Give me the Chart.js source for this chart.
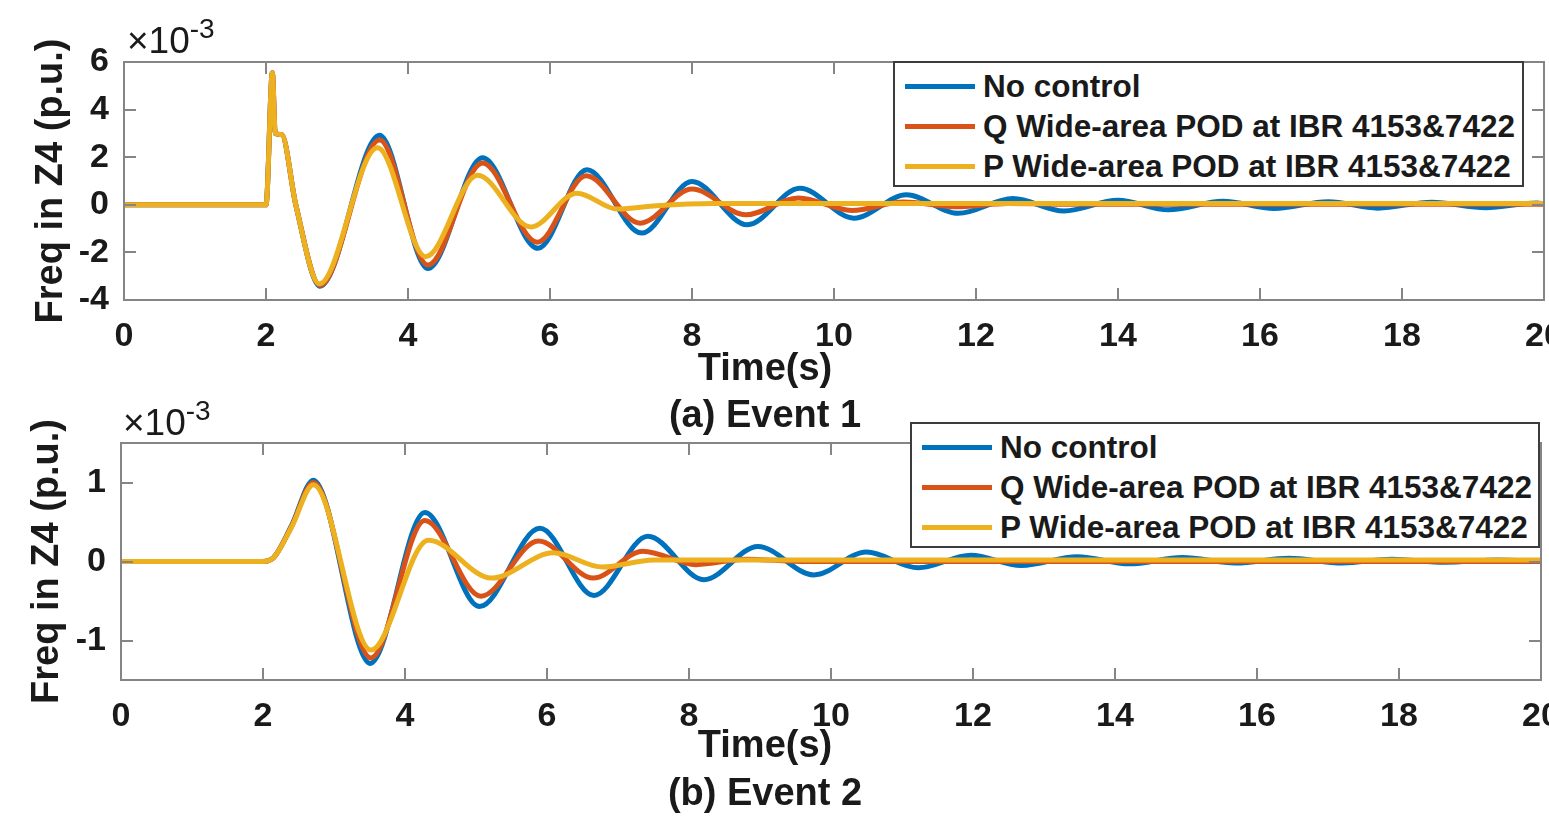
<!DOCTYPE html>
<html>
<head>
<meta charset="utf-8">
<title>Freq in Z4</title>
<script src="https://cdn.jsdelivr.net/npm/chart.js@4.4.1/dist/chart.umd.min.js"></script>
<style>
  html, body { margin: 0; padding: 0; background: #fff; overflow: hidden; }
  body { width: 1549px; height: 818px; position: relative; font-family: 'Liberation Sans', Arial, sans-serif; color: #1a1a1a; }
  .plot { position: absolute; left: 0; width: 1549px; }
  .plot canvas { display: block; }
  .exp { position: absolute; font-size: 37px; line-height: 37px; font-weight: normal; white-space: nowrap; }
  .exp sup { font-size: 28px; vertical-align: 15px; line-height: 0; }
  .caption { position: absolute; width: 400px; text-align: center; font-size: 38px; font-weight: bold; line-height: 40px; z-index: 4; }
  .legend { position: absolute; box-sizing: border-box; background: #fff; border: 2px solid #3c3c3c; padding: 3px 0 0 10px; z-index: 5; }
  .legend .row { height: 40px; line-height: 40px; font-size: 31.5px; font-weight: bold; white-space: nowrap; display: flex; align-items: center; }
  .legend .swatch { display: inline-block; width: 70px; height: 5px; margin-right: 8px; }
</style>
</head>
<body>
<div class="plot" style="top:0;height:440px"><canvas id="event1" width="1549" height="440"></canvas></div>
<div class="plot" style="top:400px;height:418px"><canvas id="event2" width="1549" height="418"></canvas></div>
<div class="exp" style="left:127px;top:22px">&times;10<sup>-3</sup></div>
<div class="exp" style="left:123px;top:404px">&times;10<sup>-3</sup></div>
<div class="legend" id="legend1" style="left:893px;top:61px;width:631px;height:126px"></div>
<div class="legend" id="legend2" style="left:910px;top:422px;width:630px;height:126px"></div>
<div class="caption" style="left:565px;top:347px">Time(s)</div>
<div class="caption" style="left:565px;top:394px">(a) Event 1</div>
<div class="caption" style="left:565px;top:724px">Time(s)</div>
<div class="caption" style="left:565px;top:772px">(b) Event 2</div>
<script>
const seriesNames = ['No control', 'Q Wide-area POD at IBR 4153&7422', 'P Wide-area POD at IBR 4153&7422'];
const timeTicks = [0, 2, 4, 6, 8, 10, 12, 14, 16, 18, 20];
const e1Ticks = [-4, -2, 0, 2, 4, 6];
const e2Ticks = [-1, 0, 1];

// Event 1 (values x1e-3 p.u.)
const e1TimeNoCtrl = [0, 2.0, 2.09, 2.13, 2.22, 2.42, 2.76, 3.60, 4.28, 5.05, 5.83, 6.52, 7.29, 8.00, 8.78, 9.52, 10.28, 11.02, 11.75, 12.52, 13.24, 14.00, 14.71, 15.48, 16.20, 16.96, 17.66, 18.42, 19.18, 19.90, 20];
const e1FreqNoCtrl = [0, 0, 5.55, 3.0, 2.95, 0.0, -3.42, 2.92, -2.68, 1.98, -1.83, 1.47, -1.19, 0.98, -0.84, 0.70, -0.56, 0.42, -0.36, 0.26, -0.26, 0.19, -0.21, 0.15, -0.16, 0.13, -0.14, 0.11, -0.12, 0.08, 0.04];
const e1TimeQ = [0, 2.0, 2.09, 2.13, 2.22, 2.42, 2.76, 3.60, 4.28, 5.05, 5.82, 6.51, 7.27, 8.00, 8.76, 9.50, 10.25, 10.98, 11.70, 12.45, 13.50, 20];
const e1FreqQ = [0, 0, 5.55, 3.0, 2.95, 0.0, -3.38, 2.72, -2.53, 1.76, -1.57, 1.22, -0.77, 0.66, -0.42, 0.29, -0.24, 0.12, -0.08, 0.05, 0.02, 0.02];
const e1TimeP = [0, 2.0, 2.09, 2.13, 2.22, 2.42, 2.75, 3.57, 4.25, 4.98, 5.73, 6.38, 6.95, 7.50, 8.30, 20];
const e1FreqP = [0, 0, 5.55, 3.0, 2.95, 0.0, -3.32, 2.40, -2.18, 1.24, -0.93, 0.49, -0.18, -0.04, 0.05, 0.05];

// Event 2
const e2TimeNoCtrl = [0, 2.0, 2.15, 2.40, 2.71, 3.51, 4.28, 5.05, 5.90, 6.66, 7.42, 8.21, 8.97, 9.76, 10.50, 11.23, 11.97, 12.68, 13.47, 14.20, 14.95, 15.70, 16.45, 17.20, 17.90, 18.65, 19.40, 20];
const e2FreqNoCtrl = [0, 0, 0.05, 0.45, 1.03, -1.29, 0.62, -0.57, 0.42, -0.43, 0.32, -0.23, 0.19, -0.17, 0.12, -0.08, 0.08, -0.05, 0.06, -0.03, 0.05, -0.02, 0.04, -0.02, 0.03, -0.01, 0.02, 0.0];
const e2TimeQ = [0, 2.0, 2.15, 2.40, 2.71, 3.52, 4.28, 5.07, 5.88, 6.65, 7.35, 8.10, 8.80, 9.60, 20];
const e2FreqQ = [0, 0, 0.05, 0.44, 1.00, -1.22, 0.52, -0.44, 0.26, -0.21, 0.13, -0.04, 0.03, 0.0, 0.0];
const e2TimeP = [0, 2.0, 2.15, 2.40, 2.71, 3.52, 4.33, 5.22, 6.09, 6.78, 7.50, 20];
const e2FreqP = [0, 0, 0.05, 0.43, 0.97, -1.12, 0.27, -0.21, 0.11, -0.07, 0.02, 0.02];

const colors = ['#0072BD', '#D95319', '#EDB120'];
const font = "'Liberation Sans', Arial, sans-serif";

function pts(t, v) {
    return t.map((x, i) => ({ x: x, y: v[i] }));
}

// draws the axes box and inward ticks like matlab
const boxPlugin = {
    id: 'box',
    afterDatasetsDraw(chart) {
        const { ctx, chartArea: a, scales } = chart;
        const len = 12;
        ctx.save();
        ctx.strokeStyle = '#858585';
        ctx.lineWidth = 2;
        ctx.beginPath();
        scales.x.ticks.forEach(t => {
            const px = Math.round(scales.x.getPixelForValue(t.value));
            ctx.moveTo(px, a.bottom); ctx.lineTo(px, a.bottom - len);
            ctx.moveTo(px, a.top); ctx.lineTo(px, a.top + len);
        });
        scales.y.ticks.forEach(t => {
            const py = Math.round(scales.y.getPixelForValue(t.value));
            ctx.moveTo(a.left, py); ctx.lineTo(a.left + len, py);
            ctx.moveTo(a.right, py); ctx.lineTo(a.right - len, py);
        });
        ctx.stroke();
        ctx.strokeRect(a.left, a.top, a.right - a.left, a.bottom - a.top);
        ctx.restore();
    }
};

function makeChart(id, cfg) {
    const datasets = cfg.series.map((s, i) => ({
        label: seriesNames[i],
        data: pts(s[0], s[1]),
        borderColor: colors[i],
        borderWidth: 5,
        pointRadius: 0,
        cubicInterpolationMode: 'monotone',
        order: 3 - i
    }));
    return new Chart(document.getElementById(id), {
        type: 'line',
        data: { datasets: datasets },
        plugins: [boxPlugin],
        options: {
            responsive: false,
            animation: false,
            layout: { padding: cfg.padding },
            plugins: { legend: { display: false }, tooltip: { enabled: false } },
            scales: {
                x: {
                    type: 'linear',
                    min: 0,
                    max: 20,
                    grid: { display: false },
                    border: { display: false },
                    afterBuildTicks: s => { s.ticks = timeTicks.map(v => ({ value: v })); },
                    afterFit: s => { s.height = cfg.xHeight; s.paddingLeft = 0; s.paddingRight = 0; },
                    ticks: { color: '#1a1a1a', padding: 8, maxRotation: 0, autoSkip: false,
                             font: { family: font, size: 34, weight: 'bold' } },
                    title: { display: false }
                },
                y: {
                    min: cfg.yMin,
                    max: cfg.yMax,
                    grid: { display: false },
                    border: { display: false },
                    afterBuildTicks: s => { s.ticks = cfg.yTicks.map(v => ({ value: v })); },
                    afterFit: s => { s.width = cfg.yWidth; },
                    ticks: { color: '#1a1a1a', padding: 7,
                             font: { family: font, size: 34, weight: 'bold' } },
                    title: { display: true, text: 'Freq in Z4 (p.u.)', color: '#1a1a1a',
                             padding: { top: cfg.yTitlePad, bottom: 0 },
                             font: { family: font, size: 38, weight: 'bold' } }
                }
            }
        }
    });
}

makeChart('event1', {
    series: [[e1TimeNoCtrl, e1FreqNoCtrl], [e1TimeQ, e1FreqQ], [e1TimeP, e1FreqP]],
    yMin: -4, yMax: 6, yTicks: e1Ticks,
    padding: { left: 0, right: 5, top: 62, bottom: 50 },
    xHeight: 90, yWidth: 124, yTitlePad: 29
});

makeChart('event2', {
    series: [[e2TimeNoCtrl, e2FreqNoCtrl], [e2TimeQ, e2FreqQ], [e2TimeP, e2FreqP]],
    yMin: -1.5, yMax: 1.5, yTicks: e2Ticks,
    padding: { left: 0, right: 8, top: 43, bottom: 51 },
    xHeight: 87, yWidth: 121, yTitlePad: 25
});

function buildLegend(id) {
    const box = document.getElementById(id);
    seriesNames.forEach((name, i) => {
        const row = document.createElement('div');
        row.className = 'row';
        const sw = document.createElement('span');
        sw.className = 'swatch';
        sw.style.background = colors[i];
        const tx = document.createElement('span');
        tx.textContent = name;
        row.appendChild(sw);
        row.appendChild(tx);
        box.appendChild(row);
    });
}
buildLegend('legend1');
buildLegend('legend2');
</script>
</body>
</html>
